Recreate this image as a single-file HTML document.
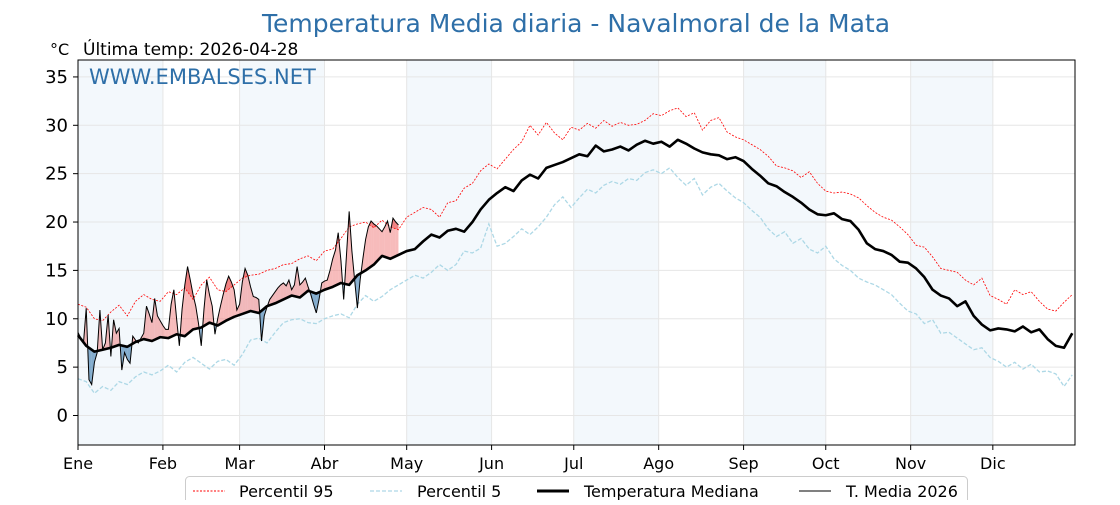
<!DOCTYPE html>
<html><head><meta charset="utf-8"><style>
body{margin:0;background:#fff;width:1120px;height:500px;overflow:hidden;font-family:"Liberation Sans","DejaVu Sans",sans-serif}
svg text{font-family:"DejaVu Sans","Liberation Sans",sans-serif}
</style></head><body>
<svg id="chart" width="1120" height="500" xmlns="http://www.w3.org/2000/svg">
<text x="576" y="32" text-anchor="middle" font-size="25" fill="#2e6fa8">Temperatura Media diaria - Navalmoral de la Mata</text>
<text x="50" y="55" font-size="16" fill="#000">°C</text>
<text x="83" y="55" font-size="17" fill="#000">Última temp: 2026-04-28</text>
<g id="bands"></g><g id="grid"></g><g id="fills"></g><g id="lines"></g><g id="axes"></g>
<text x="89" y="84" font-size="21" fill="#2e6fa8">WWW.EMBALSES.NET</text>
<g>
<rect x="185.5" y="476.5" width="782" height="30" rx="4" fill="#fff" stroke="#ccc"/>
<line x1="193" y1="491" x2="225" y2="491" stroke="red" stroke-width="1" stroke-dasharray="2,1.5"/>
<text x="239" y="497" font-size="16">Percentil 95</text>
<line x1="370" y1="491" x2="402" y2="491" stroke="#add8e6" stroke-width="1.3" stroke-dasharray="4,2"/>
<text x="417" y="497" font-size="16">Percentil 5</text>
<line x1="537" y1="491" x2="569" y2="491" stroke="#000" stroke-width="3"/>
<text x="584" y="497" font-size="16">Temperatura Mediana</text>
<line x1="799" y1="491" x2="831" y2="491" stroke="#000" stroke-width="1"/>
<text x="846" y="497" font-size="16">T. Media 2026</text>
</g>
</svg>
<script>
const months=["Ene","Feb","Mar","Abr","May","Jun","Jul","Ago","Sep","Oct","Nov","Dic"];
const monthStarts=[0,31,59,90,120,151,181,212,243,273,304,334];
const yTicks=[0,5,10,15,20,25,30,35];
const climStep=3;
const median=[8.3,7.2,6.6,6.8,7.0,7.3,7.1,7.6,7.9,7.7,8.1,
8.0,8.4,8.2,8.9,9.1,9.6,9.3,9.8,10.2,10.5,
10.8,10.6,11.3,11.6,12.0,12.4,12.2,12.9,12.6,13.0,
13.3,13.7,13.5,14.5,15.0,15.6,16.5,16.2,16.6,17.0,
17.2,18.0,18.7,18.4,19.1,19.3,19.0,20.0,21.3,22.3,
23.0,23.6,23.2,24.3,24.9,24.5,25.6,25.9,26.2,26.6,
27.0,26.8,27.9,27.3,27.5,27.8,27.4,28.0,28.4,28.1,
28.3,27.8,28.5,28.1,27.6,27.2,27.0,26.9,26.5,26.7,
26.3,25.5,24.8,24.0,23.7,23.1,22.6,22.0,21.3,20.8,
20.7,20.9,20.3,20.1,19.2,17.8,17.2,17.0,16.6,15.9,
15.8,15.2,14.3,13.0,12.4,12.1,11.3,11.8,10.3,9.4,
8.8,9.0,8.9,8.7,9.2,8.6,8.9,7.9,7.2,7.0,8.5];
const p95=[11.5,11.2,10.0,9.8,10.7,11.4,10.3,11.8,12.5,12.0,11.8,
12.8,12.5,13.2,12.0,13.5,14.3,13.0,12.8,13.5,14.2,
14.5,14.6,15.0,15.2,15.6,15.7,16.2,16.5,16.0,17.0,
17.2,18.3,19.5,19.8,20.0,19.4,20.2,19.5,19.2,20.5,
21.0,21.5,21.3,20.5,22.0,22.2,23.5,24.0,25.3,26.0,
25.5,26.5,27.5,28.3,30.0,29.0,30.3,29.2,28.5,29.8,
29.5,30.2,29.7,30.5,29.9,30.3,30.0,30.1,30.5,31.2,
31.0,31.5,31.8,30.9,31.3,29.5,30.5,30.8,29.3,28.8,
28.5,28.0,27.5,26.8,25.8,25.6,25.3,24.6,25.2,24.0,
23.2,23.0,23.1,22.9,22.5,21.7,21.0,20.5,20.2,19.5,
18.7,17.6,17.4,16.4,15.2,15.0,14.8,14.0,13.5,14.2,
12.4,12.0,11.5,13.0,12.5,12.8,11.8,11.0,10.8,11.7,12.5];
const p5=[3.8,3.5,2.3,3.0,2.6,3.5,3.2,4.0,4.5,4.2,4.6,
5.2,4.5,5.5,6.0,5.4,4.8,5.6,5.8,5.2,6.3,
7.8,8.0,7.5,8.6,9.6,9.9,10.0,9.6,9.5,10.0,
10.3,10.5,10.1,11.5,12.4,11.8,12.3,13.0,13.5,14.0,
14.5,14.2,14.8,15.6,15.0,15.6,17.0,16.8,17.3,19.8,
17.5,17.8,18.5,19.3,18.7,19.5,20.5,21.8,22.6,21.5,
22.5,23.4,23.0,23.8,24.2,23.9,24.5,24.3,25.1,25.4,
25.0,25.6,24.6,23.8,24.5,22.8,23.6,24.0,23.2,22.5,
22.0,21.2,20.5,19.3,18.5,19.0,17.8,18.3,17.2,16.8,
17.5,16.2,15.5,15.0,14.2,13.8,13.5,13.0,12.5,11.6,
10.8,10.5,9.5,9.9,8.5,8.6,8.0,7.4,6.8,7.0,
6.0,5.6,5.0,5.5,4.8,5.3,4.5,4.6,4.3,3.0,4.2];
const t2026=[8.6,8.0,7.5,11.1,3.7,3.2,5.5,6.5,10.9,6.8,7.5,10.4,6.1,9.9,8.5,9.0,4.7,6.5,5.8,5.4,
8.2,7.8,7.5,8.0,8.5,11.3,10.5,9.6,12.1,10.3,9.8,9.3,8.9,8.9,11.5,13.0,10.0,7.2,11.0,13.5,
15.4,14.0,12.5,11.3,9.5,7.2,11.0,14.0,12.5,11.3,8.4,10.0,11.3,12.5,13.6,14.4,13.8,13.0,10.9,11.5,
13.8,15.2,14.5,13.3,12.3,12.2,12.0,7.7,10.3,11.2,12.0,12.4,12.8,13.2,13.5,13.7,13.4,14.0,13.0,13.5,
15.4,13.5,13.8,14.2,13.3,12.5,11.5,10.6,12.0,13.7,13.9,14.0,15.0,16.2,17.1,18.9,16.0,12.0,16.5,21.1,
17.0,14.0,11.1,14.0,16.2,18.2,19.5,20.1,19.8,19.6,19.3,19.0,19.5,20.1,18.9,20.4,20.0,19.7];

const L=78,R=1075,T=60,B=445,NS="http://www.w3.org/2000/svg";
const X=d=>L+d*(R-L)/364;
const yMin=-3.05,yMax=36.75;
const Y=v=>B-(v-yMin)*(B-T)/(yMax-yMin);
function mk(tag,attrs,parent){const e=document.createElementNS(NS,tag);for(const k in attrs)e.setAttribute(k,attrs[k]);document.getElementById(parent).appendChild(e);return e;}
function clim(arr,d){const i=d/climStep,i0=Math.min(Math.floor(i),arr.length-1),i1=Math.min(i0+1,arr.length-1),f=i-i0;return arr[i0]*(1-f)+arr[i1]*f;}

monthStarts.forEach((s,i)=>{if(i%2===0){const e=Math.min(i+1<12?monthStarts[i+1]:365,364);
const r=mk('rect',{x:X(s),y:T,width:X(e)-X(s),height:B-T,fill:'#f3f8fc'},'bands');

}});
yTicks.forEach(v=>{const l=mk('line',{x1:L,x2:R,y1:Y(v),y2:Y(v),stroke:'#e6e6e6','stroke-width':1},'grid');


const t=mk('text',{x:L-10,y:Y(v)+6,'text-anchor':'end','font-size':18},'axes');t.textContent=v;


mk('line',{x1:L-5,x2:L,y1:Y(v),y2:Y(v),stroke:'#000'},'axes');});
monthStarts.forEach((s,i)=>{const l=mk('line',{x1:X(s),x2:X(s),y1:T,y2:B,stroke:'#e6e6e6'},'grid');


mk('line',{x1:X(s),x2:X(s),y1:B,y2:B+5,stroke:'#000'},'axes');
const t=mk('text',{x:X(s),y:B+24,'text-anchor':'middle','font-size':16},'axes');t.textContent=months[i];

});
const fr=mk('rect',{x:L,y:T,width:R-L,height:B-T,fill:'none',stroke:'#000','stroke-width':1},'axes');



function fillBetween(ref,cond,color,name){
 for(let d=0;d<t2026.length-1;d++){
  const a0=t2026[d]-ref(d),a1=t2026[d+1]-ref(d+1);
  const s0=cond(a0),s1=cond(a1);
  if(!s0&&!s1)continue;
  let pts;
  if(s0&&s1){pts=[[d,t2026[d]],[d+1,t2026[d+1]],[d+1,ref(d+1)],[d,ref(d)]];}
  else{const f=a0/(a0-a1),dc=d+f,vc=t2026[d]+f*(t2026[d+1]-t2026[d]);
   pts=s0?[[d,t2026[d]],[dc,vc],[d,ref(d)]]:[[dc,vc],[d+1,t2026[d+1]],[d+1,ref(d+1)]];}
  const p=mk('polygon',{points:pts.map(q=>X(q[0])+','+Y(q[1])).join(' '),fill:color},'fills');
  
  
 }
}
fillBetween(d=>clim(median,d),a=>a>0,'rgba(240,120,120,0.5)','fill-above-median');
fillBetween(d=>clim(median,d),a=>a<0,'rgba(70,130,180,0.65)','fill-below-median');
fillBetween(d=>clim(p95,d),a=>a>0,'rgba(230,60,60,0.45)','fill-above-p95');

function line(arr,step,attrs,name){
 const p=mk('polyline',Object.assign({points:arr.map((v,i)=>X(i*step)+','+Y(v)).join(' '),fill:'none'},attrs),'lines');
 
 
}
line(p95,climStep,{stroke:'red','stroke-width':0.8,'stroke-dasharray':'2,1.5'},'percentil-95-line');
line(p5,climStep,{stroke:'#add8e6','stroke-width':1.3,'stroke-dasharray':'4,2'},'percentil-5-line');
line(median,climStep,{stroke:'#000','stroke-width':2.6,'stroke-linejoin':'round'},'median-line');
line(t2026,1,{stroke:'#000','stroke-width':1},'media-2026-line');
</script>
</body></html>
